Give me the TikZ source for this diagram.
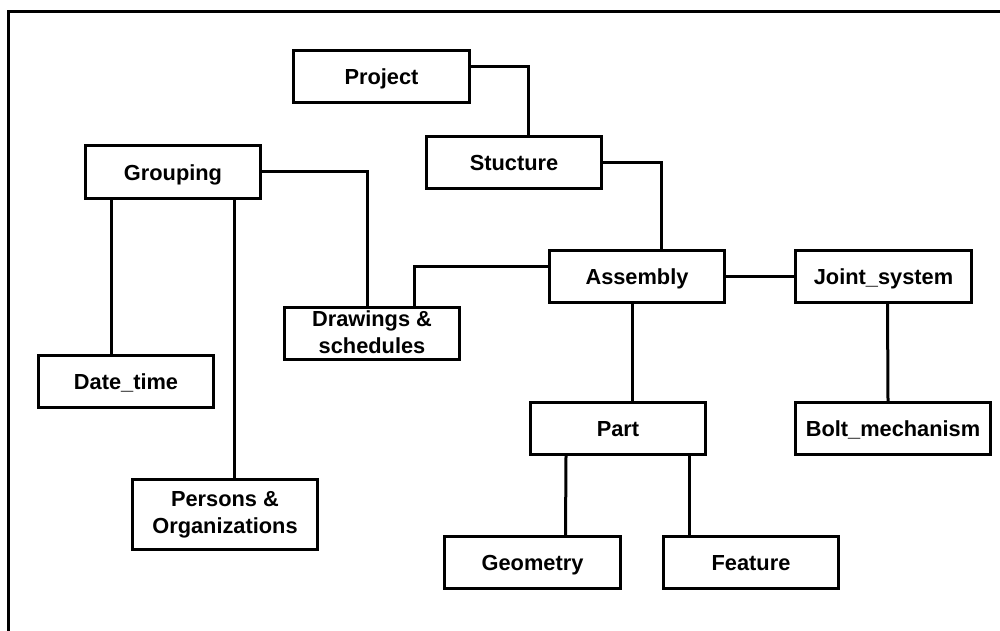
\documentclass[tikz,border=0pt]{standalone}
\usepackage{fontspec}
\setmainfont{Liberation Sans}
\begin{document}
\begin{tikzpicture}[x=1pt,y=-1pt,
  basebox/.style={draw, line width=3pt, rectangle, inner sep=0pt, minimum width=175pt, minimum height=52pt,
    align=center, font=\fontsize{21.8}{26.7}\selectfont\bfseries},
  box/.style={basebox, text height=17.5pt, text depth=1pt},
  twobox/.style={basebox},
  link/.style={line width=3pt},
  frame/.style={line width=3pt}]
\useasboundingbox (0,0) rectangle (1000,631);
\draw[frame] (8.7,660) -- (8.7,12) -- (1020,12);

\node[box, minimum width=176pt] (proj) at (381.5,76.5) {Project};
\node[box] (grp) at (173,172) {Grouping};
\node[box] (stu) at (514,162.5) {Stucture};
\node[box] (asm) at (637,276.5) {Assembly};
\node[box, minimum width=176pt] (joint) at (883.5,276.5) {Joint\_system};
\node[twobox] (drw) at (372,333.5) {};
\node[align=center, inner sep=0pt, font=\fontsize{21.8}{26.7}\selectfont\bfseries] (drwtext) at (372,332) {Drawings \&\\schedules};
\node[box] (date) at (126,381.5) {Date\_time};
\node[twobox, minimum width=185pt, minimum height=70pt] (pers) at (225,514.5) {Persons \&\\Organizations};
\node[box] (part) at (618,428.5) {Part};
\node[box, minimum width=195pt] (bolt) at (893,428.5) {Bolt\_mechanism};
\node[box, minimum width=176pt] (geo) at (532.5,562.5) {Geometry};
\node[box] (feat) at (751,562.5) {Feature};

\draw[link] ([yshift=9.5pt]proj.east) -| ([xshift=14pt]stu.north);
\draw[link] (stu.east) -| ([xshift=24pt]asm.north);
\draw[link] (grp.east) -| ([xshift=-5pt]drw.north);
\draw[link] ([yshift=10pt]asm.west) -| ([xshift=42pt]drw.north);
\draw[link] (asm.east) -- (joint.west);
\draw[link] ([xshift=-5pt]asm.south) -- ([xshift=14pt]part.north);
\draw[link] ([xshift=4pt]joint.south) -- ([xshift=-5pt]bolt.north);
\draw[link] ([xshift=-52pt]part.south) -- ([xshift=33pt]geo.north);
\draw[link] ([xshift=71pt]part.south) -- ([xshift=-62pt]feat.north);
\draw[link] ([xshift=-62pt]grp.south) -- ([xshift=-15pt]date.north);
\draw[link] ([xshift=61pt]grp.south) -- ([xshift=9pt]pers.north);
\end{tikzpicture}
\end{document}
